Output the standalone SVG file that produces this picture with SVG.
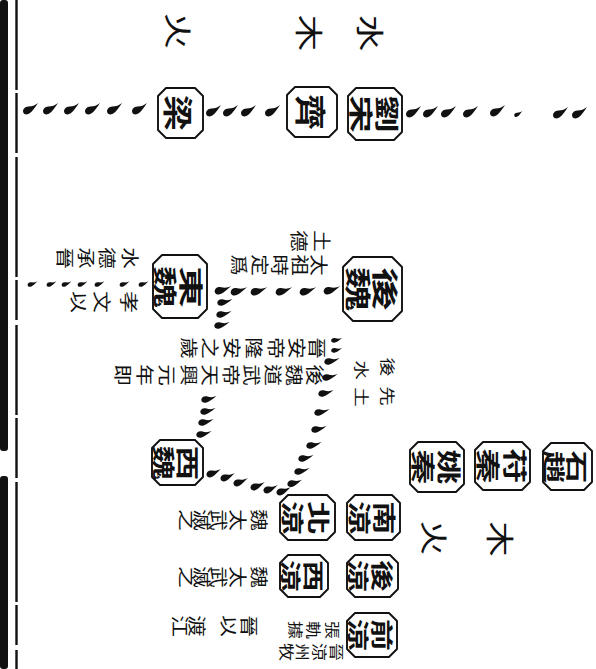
<svg xmlns="http://www.w3.org/2000/svg" width="596" height="669" viewBox="0 0 596 669">
<style>
.nd{fill:#fff;stroke:#111;stroke-width:1.9;stroke-linejoin:round}
text{font-family:"Noto Sans CJK TC","Noto Sans CJK SC",sans-serif;text-anchor:middle;dominant-baseline:central;fill:#111}
g[id^="n-"] text{font-weight:700}
.L{font-size:28px}
.n{font-size:24px}
.s{font-size:18px}
.x{font-size:15px}
.tk{fill:#111}
</style>
<defs>
<path id="tk" d="M8,-6 C5,-3.5 2,-2.5 -1.5,-2.5 C-5.5,-2.3 -7.5,0.5 -6.8,3.2 C-6,5.8 -2.5,6 -0.3,4.3 C2.5,2.2 5,-1.5 8,-6 Z"/>
</defs>
<rect width="596" height="669" fill="#fff"/>
<g id="edge">
<rect x="0" y="0" width="8" height="451" rx="3" fill="#111"/>
<rect x="0" y="476" width="8" height="193" rx="3" fill="#111"/>
<line x1="16.5" y1="0" x2="16.5" y2="669" stroke="#111" stroke-width="2.4" stroke-dasharray="90 3 60 4 120 3 40 5"/>
</g>
<g id="connectors" class="tk">
<use href="#tk" transform="translate(30,109)"/>
<use href="#tk" transform="translate(50,109)"/>
<use href="#tk" transform="translate(71,109)"/>
<use href="#tk" transform="translate(92,109)"/>
<use href="#tk" transform="translate(114,109)"/>
<use href="#tk" transform="translate(139,109)"/>
<use href="#tk" transform="translate(213,111)"/>
<use href="#tk" transform="translate(230,111)"/>
<use href="#tk" transform="translate(248,111)"/>
<use href="#tk" transform="translate(272,111)"/>
<use href="#tk" transform="translate(413,112)"/>
<use href="#tk" transform="translate(430,112)"/>
<use href="#tk" transform="translate(448,112)"/>
<use href="#tk" transform="translate(470,112)"/>
<use href="#tk" transform="translate(497,111)"/>
<use href="#tk" transform="translate(518,114) scale(0.55)"/>
<use href="#tk" transform="translate(560,113)"/>
<use href="#tk" transform="translate(579,113)"/>
<use href="#tk" transform="translate(331,290) rotate(14)"/>
<use href="#tk" transform="translate(307,291) rotate(14)"/>
<use href="#tk" transform="translate(283,291) rotate(14)"/>
<use href="#tk" transform="translate(258,291) rotate(14)"/>
<use href="#tk" transform="translate(238,291) rotate(14)"/>
<use href="#tk" transform="translate(222,290) rotate(14)"/>
<use href="#tk" transform="translate(224,302) rotate(18) scale(0.9)"/>
<use href="#tk" transform="translate(223,314) rotate(18) scale(0.9)"/>
<use href="#tk" transform="translate(221,325) rotate(18) scale(0.9)"/>
<use href="#tk" transform="translate(208,399) rotate(18) scale(0.9)"/>
<use href="#tk" transform="translate(207,411) rotate(18) scale(0.9)"/>
<use href="#tk" transform="translate(205,422) rotate(18) scale(0.9)"/>
<use href="#tk" transform="translate(203,434) rotate(18) scale(0.9)"/>
<use href="#tk" transform="translate(143,284) rotate(10) scale(0.6)"/>
<use href="#tk" transform="translate(124,284) rotate(10) scale(0.6)"/>
<use href="#tk" transform="translate(99,284) rotate(10) scale(0.6)"/>
<use href="#tk" transform="translate(82,284) rotate(10) scale(0.6)"/>
<use href="#tk" transform="translate(66,284) rotate(10) scale(0.6)"/>
<use href="#tk" transform="translate(51,284) rotate(10) scale(0.6)"/>
<use href="#tk" transform="translate(32,284) rotate(10) scale(0.6)"/>
<use href="#tk" transform="translate(336,340) rotate(18) scale(0.65)"/>
<use href="#tk" transform="translate(336,350) rotate(18) scale(0.65)"/>
<use href="#tk" transform="translate(331,361) rotate(18) scale(0.9)"/>
<use href="#tk" transform="translate(329,377) rotate(18) scale(0.9)"/>
<use href="#tk" transform="translate(325,393) rotate(18) scale(0.9)"/>
<use href="#tk" transform="translate(321,412) rotate(18) scale(0.9)"/>
<use href="#tk" transform="translate(318,429) rotate(18) scale(0.9)"/>
<use href="#tk" transform="translate(313,445) rotate(18) scale(0.9)"/>
<use href="#tk" transform="translate(305,458) rotate(18) scale(0.9)"/>
<use href="#tk" transform="translate(301,471) rotate(18) scale(0.9)"/>
<use href="#tk" transform="translate(294,483) rotate(14) scale(0.9)"/>
<use href="#tk" transform="translate(283,491) rotate(8) scale(0.9)"/>
<use href="#tk" transform="translate(270,489) rotate(8) scale(0.9)"/>
<use href="#tk" transform="translate(257,486) rotate(8) scale(0.9)"/>
<use href="#tk" transform="translate(240,482) rotate(8) scale(0.9)"/>
<use href="#tk" transform="translate(227,477) rotate(8) scale(0.9)"/>
<use href="#tk" transform="translate(213,473) rotate(8) scale(0.9)"/>
</g>
<g id="labels">
<text class="L" transform="translate(372,33) rotate(90) scale(1.3,1)">水</text>
<text class="L" transform="translate(311,33) rotate(90) scale(1.3,1)">木</text>
<text class="L" transform="translate(180,31) rotate(90) scale(1.3,1)">火</text>
<text class="L" transform="translate(435,538) rotate(90) scale(1.25,1)">火</text>
<text class="L" transform="translate(501,539) rotate(90) scale(1.25,1)">木</text>
</g>
<g id="n-liusong"><polygon class="nd" points="356,88 394,88 402,96 402,132 394,140 356,140 348,132 348,96"/><text class="n" transform="translate(388,114) rotate(90) scale(1.55,1)">劉</text><text class="n" transform="translate(362,114) rotate(90) scale(1.55,1)">宋</text></g>
<g id="n-qi"><polygon class="nd" points="295,87 329,87 337,95 337,129 329,137 295,137 287,129 287,95"/><text style="font-size:31px" transform="translate(312,112) rotate(90) scale(1.15,1)">齊</text></g>
<g id="n-liang"><polygon class="nd" points="166,88 195,88 203,96 203,130 195,138 166,138 158,130 158,96"/><text style="font-size:30px" transform="translate(180,113) rotate(90) scale(1.2,1)">梁</text></g>
<g id="n-houwei"><polygon class="nd" points="353,257 392,257 402,267 402,311 392,321 353,321 343,311 343,267"/><text style="font-size:26px" transform="translate(386,289) rotate(90) scale(1.7,1)">後</text><text style="font-size:26px" transform="translate(359,289) rotate(90) scale(1.7,1)">魏</text></g>
<g id="n-dongwei"><polygon class="nd" points="162,255 198,255 207,264 207,309 198,318 162,318 153,309 153,264"/><text class="n" transform="translate(193,287) rotate(90) scale(1.75,1)">東</text><text class="n" transform="translate(167,287) rotate(90) scale(1.75,1)">魏</text></g>
<g id="n-xiwei"><polygon class="nd" points="160,440 195,440 203,448 203,477 195,485 160,485 152,477 152,448"/><text style="font-size:23px" transform="translate(189,463) rotate(90) scale(1.5,1)">西</text><text style="font-size:23px" transform="translate(165,463) rotate(90) scale(1.5,1)">魏</text></g>
<g id="n-t1"><polygon class="nd" points="418,442 456,442 464,450 464,484 456,492 418,492 410,484 410,450"/><text class="n" transform="translate(450,467) rotate(90) scale(1.45,1)">姚</text><text class="n" transform="translate(424,467) rotate(90) scale(1.45,1)">秦</text></g>
<g id="n-t2"><polygon class="nd" points="483,442 522,442 530,450 530,482 522,490 483,490 475,482 475,450"/><text class="n" transform="translate(516,466) rotate(90) scale(1.45,1)">苻</text><text class="n" transform="translate(489,466) rotate(90) scale(1.45,1)">秦</text></g>
<g id="n-t3"><polygon class="nd" points="551,443 584,443 592,451 592,482 584,490 551,490 543,482 543,451"/><text style="font-size:22px" transform="translate(579,467) rotate(90) scale(1.5,1)">石</text><text style="font-size:22px" transform="translate(556,467) rotate(90) scale(1.5,1)">趙</text></g>
<g id="n-n2"><polygon class="nd" points="355,495 392,495 400,503 400,532 392,540 355,540 347,532 347,503"/><text style="font-size:23px" transform="translate(386,518) rotate(90) scale(1.45,1)">南</text><text style="font-size:23px" transform="translate(361,518) rotate(90) scale(1.45,1)">涼</text></g>
<g id="n-n1"><polygon class="nd" points="288,495 327,495 335,503 335,532 327,540 288,540 280,532 280,503"/><text style="font-size:23px" transform="translate(320,518) rotate(90) scale(1.45,1)">北</text><text style="font-size:23px" transform="translate(294,518) rotate(90) scale(1.45,1)">涼</text></g>
<g id="n-n4"><polygon class="nd" points="355,555 390,555 398,563 398,589 390,597 355,597 347,589 347,563"/><text style="font-size:22px" transform="translate(384,576) rotate(90) scale(1.45,1)">後</text><text style="font-size:22px" transform="translate(360,576) rotate(90) scale(1.45,1)">涼</text></g>
<g id="n-n3"><polygon class="nd" points="288,555 320,555 328,563 328,589 320,597 288,597 280,589 280,563"/><text style="font-size:21px" transform="translate(315,576) rotate(90) scale(1.5,1)">西</text><text style="font-size:21px" transform="translate(292,576) rotate(90) scale(1.5,1)">涼</text></g>
<g id="n-n5"><polygon class="nd" points="355,613 389,613 397,621 397,649 389,657 355,657 347,649 347,621"/><text style="font-size:22px" transform="translate(384,635) rotate(90) scale(1.45,1)">前</text><text style="font-size:22px" transform="translate(360,635) rotate(90) scale(1.45,1)">涼</text></g>
<g id="notes">
<text class="s" transform="translate(323,241) rotate(90) scale(1.2,1)">土</text>
<text class="s" transform="translate(300,241) rotate(90) scale(1.2,1)">德</text>
<text class="s" transform="translate(320,265) rotate(90) scale(1.2,1)">太</text>
<text class="s" transform="translate(301,265) rotate(90) scale(1.2,1)">祖</text>
<text class="s" transform="translate(281,265) rotate(90) scale(1.2,1)">時</text>
<text class="s" transform="translate(261,265) rotate(90) scale(1.2,1)">定</text>
<text class="s" transform="translate(240,265) rotate(90) scale(1.2,1)">爲</text>
<text class="s" transform="translate(318,348) rotate(90) scale(1.2,1)">晉</text>
<text class="s" transform="translate(298,348) rotate(90) scale(1.2,1)">安</text>
<text class="s" transform="translate(277,348) rotate(90) scale(1.2,1)">帝</text>
<text class="s" transform="translate(255,348) rotate(90) scale(1.2,1)">隆</text>
<text class="s" transform="translate(233,348) rotate(90) scale(1.2,1)">安</text>
<text class="s" transform="translate(211,348) rotate(90) scale(1.2,1)">之</text>
<text class="s" transform="translate(190,348) rotate(90) scale(1.2,1)">歲</text>
<text class="s" transform="translate(316,375) rotate(90) scale(1.2,1)">後</text>
<text class="s" transform="translate(295,375) rotate(90) scale(1.2,1)">魏</text>
<text class="s" transform="translate(274,375) rotate(90) scale(1.2,1)">道</text>
<text class="s" transform="translate(253,375) rotate(90) scale(1.2,1)">武</text>
<text class="s" transform="translate(232,375) rotate(90) scale(1.2,1)">帝</text>
<text class="s" transform="translate(211,375) rotate(90) scale(1.2,1)">天</text>
<text class="s" transform="translate(190,375) rotate(90) scale(1.2,1)">興</text>
<text class="s" transform="translate(168,375) rotate(90) scale(1.2,1)">元</text>
<text class="s" transform="translate(146,375) rotate(90) scale(1.2,1)">年</text>
<text class="s" transform="translate(124,375) rotate(90) scale(1.2,1)">即</text>
<text class="s" transform="translate(131,258) rotate(90) scale(1.2,1)">水</text>
<text class="s" transform="translate(108,258) rotate(90) scale(1.2,1)">德</text>
<text class="s" transform="translate(87,258) rotate(90) scale(1.2,1)">承</text>
<text class="s" transform="translate(66,258) rotate(90) scale(1.2,1)">晉</text>
<text class="s" transform="translate(130,302) rotate(90) scale(1.2,1)">孝</text>
<text class="s" transform="translate(103,302) rotate(90) scale(1.2,1)">文</text>
<text class="s" transform="translate(80,302) rotate(90) scale(1.2,1)">以</text>
<text class="x" transform="translate(388,367) rotate(90) scale(1.3,1)">後</text>
<text class="x" transform="translate(362,370) rotate(90) scale(1.3,1)">水</text>
<text class="x" transform="translate(388,396) rotate(90) scale(1.3,1)">先</text>
<text class="x" transform="translate(362,397) rotate(90) scale(1.3,1)">土</text>
<text class="s" transform="translate(260,520) rotate(90) scale(1.2,1)">魏</text>
<text class="s" transform="translate(239,520) rotate(90) scale(1.2,1)">太</text>
<text class="s" transform="translate(220,520) rotate(90) scale(1.2,1)">武</text>
<text class="s" transform="translate(203,520) rotate(90) scale(1.2,1)">滅</text>
<text class="s" transform="translate(188,520) rotate(90) scale(1.2,1)">之</text>
<text class="s" transform="translate(260,577) rotate(90) scale(1.2,1)">魏</text>
<text class="s" transform="translate(239,577) rotate(90) scale(1.2,1)">太</text>
<text class="s" transform="translate(220,577) rotate(90) scale(1.2,1)">武</text>
<text class="s" transform="translate(203,577) rotate(90) scale(1.2,1)">滅</text>
<text class="s" transform="translate(188,577) rotate(90) scale(1.2,1)">之</text>
<text class="s" transform="translate(250,626) rotate(90) scale(1.2,1)">晉</text>
<text class="s" transform="translate(230,626) rotate(90) scale(1.2,1)">以</text>
<text class="s" transform="translate(198,626) rotate(90) scale(1.2,1)">渡</text>
<text class="s" transform="translate(181,626) rotate(90) scale(1.2,1)">江</text>
<text class="x" transform="translate(333,630) rotate(90) scale(1.2,1)">張</text>
<text class="x" transform="translate(314,630) rotate(90) scale(1.2,1)">軌</text>
<text class="x" transform="translate(296,630) rotate(90) scale(1.2,1)">據</text>
<text class="x" transform="translate(337,652) rotate(90) scale(1.2,1)">晉</text>
<text class="x" transform="translate(320,652) rotate(90) scale(1.2,1)">涼</text>
<text class="x" transform="translate(303,652) rotate(90) scale(1.2,1)">州</text>
<text class="x" transform="translate(287,652) rotate(90) scale(1.2,1)">牧</text>
</g>
</svg>
